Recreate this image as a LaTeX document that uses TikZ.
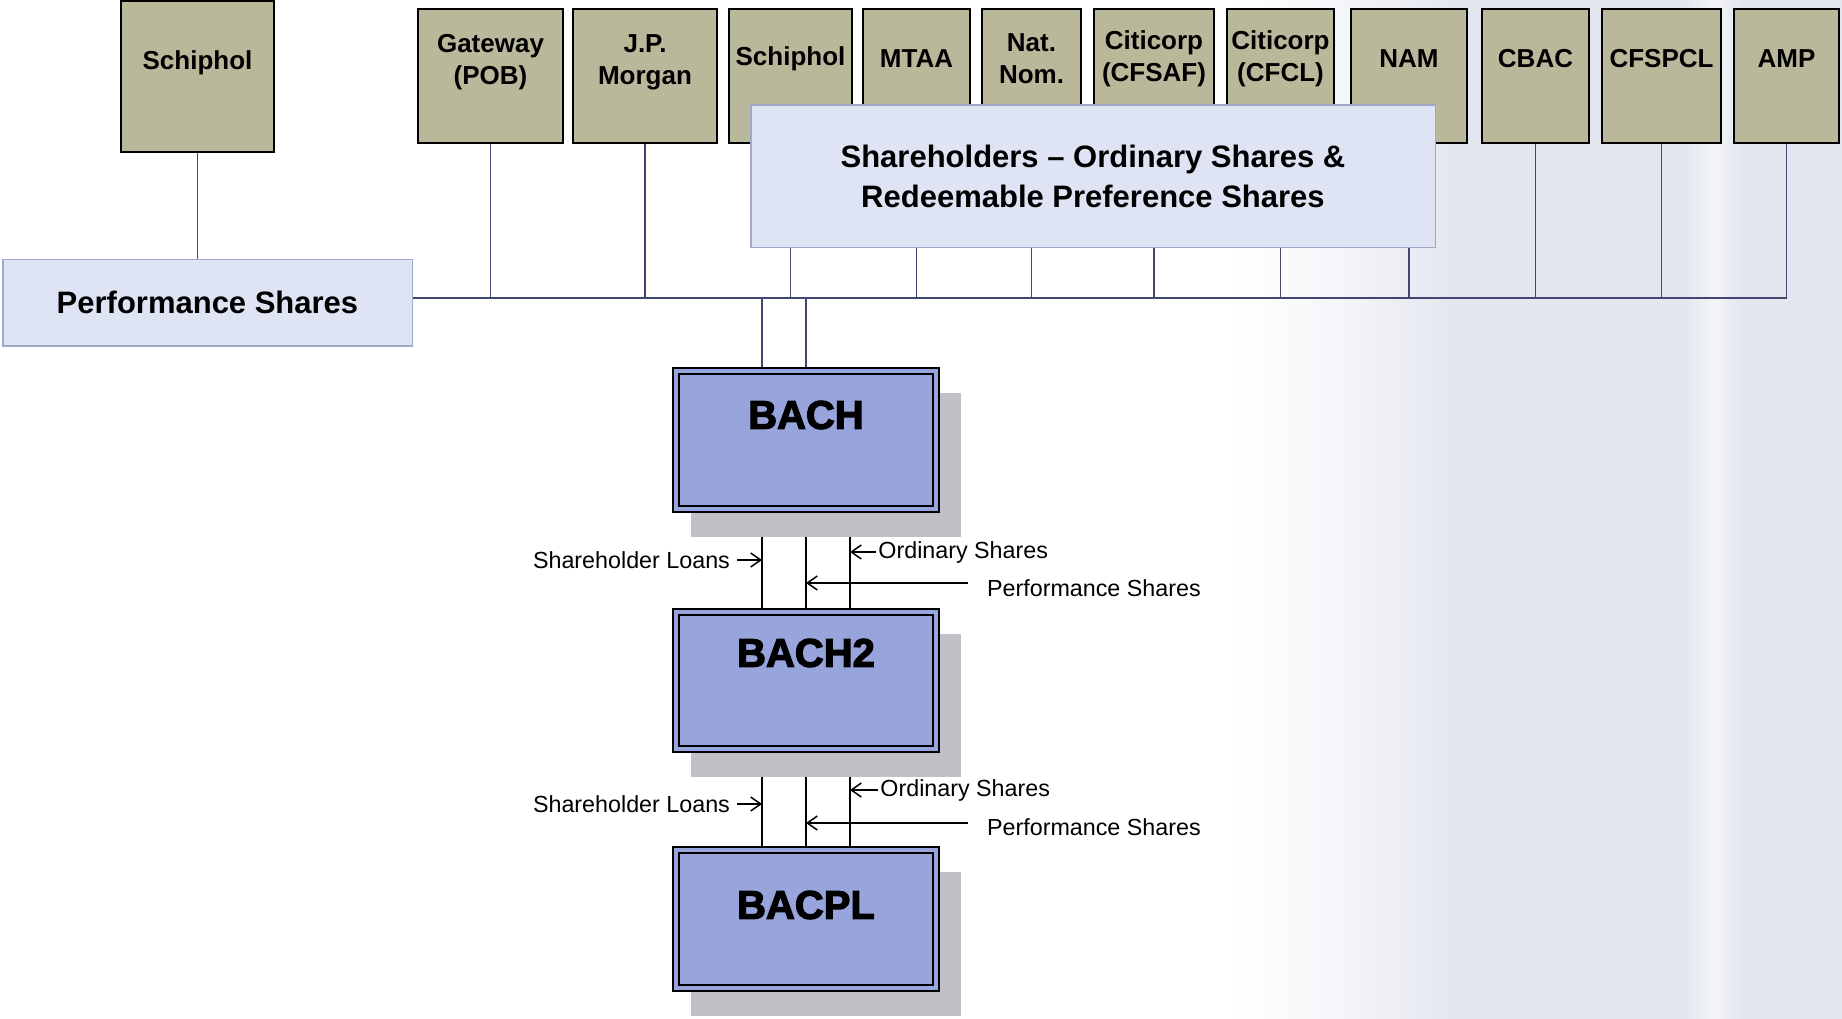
\documentclass[tikz,border=0pt]{standalone}
\usepackage{fontspec}
\setmainfont{Liberation Sans}
\newfontfamily\heavyfont{Liberation Sans}[BoldFeatures={FakeBold=3}]
\usetikzlibrary{arrows.meta,backgrounds,shadows}

\definecolor{khaki}{RGB}{186,184,155}
\definecolor{paleblue}{RGB}{223,228,245}
\definecolor{paleedge}{RGB}{160,168,200}
\definecolor{bachblue}{RGB}{152,164,220}
\definecolor{shadowgrey}{RGB}{192,192,198}
\definecolor{linkblue}{RGB}{66,70,112}
\definecolor{scantint}{RGB}{227,229,239}

\pgfdeclarehorizontalshading{scanwash}{100bp}{color(0bp)=(white); color(25bp)=(white); color(33bp)=(white!70!scantint); color(39.5bp)=(white!30!scantint); color(44bp)=(scantint); color(62bp)=(scantint); color(64.5bp)=(white!60!scantint); color(67bp)=(scantint); color(100bp)=(scantint)}

\tikzset{
  holder/.style={draw=black, line width=1.2pt, fill=khaki, minimum height=67pt, inner sep=0pt},
  holdertext/.style={font=\bfseries\fontsize{13}{16}\selectfont, align=center, yshift=8.5pt},
  sharebox/.style={draw=paleedge, line width=0.75pt, fill=paleblue, inner sep=0pt, align=center, font=\bfseries\fontsize{15.5}{20}\selectfont},
  company/.style={draw=black, line width=0.8pt, double=bachblue, double distance=2.2pt, fill=bachblue,
    minimum width=130pt, minimum height=69pt, inner sep=0pt,
    drop shadow={shadow xshift=9.5pt, shadow yshift=-12pt, shadow scale=1.04, fill=shadowgrey, opacity=1}},
  companytext/.style={font=\heavyfont\bfseries\fontsize{20}{24}\selectfont},
  link/.style={draw=linkblue, line width=0.75pt},
  busline/.style={draw=linkblue, line width=1.2pt},
  feed/.style={draw=black, line width=0.75pt},
  note/.style={font=\fontsize{11.65}{14}\selectfont},
  arr/.style={draw=black, line width=0.75pt, -{Straight Barb[length=5pt,width=7pt]}}
}

\begin{document}
\begin{tikzpicture}[x=0.5pt, y=-0.5pt]
\useasboundingbox (0,0) rectangle (1842,1018);

% shareholders
\node[holder, minimum width=76.5pt, minimum height=75.5pt, label={[holdertext, yshift=-1.5pt]center:Schiphol}] (schA) at (197.5,76.5) {};
\node[holder, minimum width=72.25pt, label={[holdertext, yshift=-1.5pt]center:Gateway\\(POB)}] (gw) at (490.5,76) {};
\node[holder, minimum width=71.75pt, label={[holdertext, yshift=-1.5pt]center:J.P.\\Morgan}] (jpm) at (645,76) {};
\node[holder, minimum width=61.25pt, label={[holdertext]center:Schiphol}] (schB) at (790.5,76) {};
\node[holder, minimum width=53.25pt, label={[holdertext]center:MTAA}] (mtaa) at (916.5,76) {};
\node[holder, minimum width=49.25pt, label={[holdertext]center:Nat.\\Nom.}] (natnom) at (1031.5,76) {};
\node[holder, minimum width=59.75pt, label={[holdertext]center:Citicorp\\(CFSAF)}] (cfsaf) at (1154,76) {};
\node[holder, minimum width=53.25pt, label={[holdertext]center:Citicorp\\(CFCL)}] (cfcl) at (1280.5,76) {};
\node[holder, minimum width=57.75pt, label={[holdertext]center:NAM}] (nam) at (1409,76) {};
\node[holder, minimum width=53.25pt, label={[holdertext]center:CBAC}] (cbac) at (1535.5,76) {};
\node[holder, minimum width=59.25pt, label={[holdertext]center:CFSPCL}] (cfspcl) at (1661.5,76) {};
\node[holder, minimum width=52.25pt, label={[holdertext]center:AMP}] (amp) at (1786.5,76) {};

\node[sharebox, minimum width=342.25pt, minimum height=71.25pt] (holders) at (1093,176) {Shareholders -- Ordinary Shares \&\\Redeemable Preference Shares};
\node[sharebox, minimum width=204.75pt, minimum height=43.25pt] (perf) at (207.5,302.5) {Performance Shares};

% companies
\node[company, label={[companytext, yshift=12.5pt]center:BACH}] (bach) at (806,440) {};
\node[company, minimum height=68.5pt, label={[companytext, yshift=13.75pt]center:BACH2}] (bach2) at (806,680.5) {};
\node[company, label={[companytext, yshift=7pt]center:BACPL}] (bacpl) at (806,919) {};

\begin{scope}[on background layer]
\fill[white] (0,0) rectangle (1842,1018);
\shade[shading=scanwash] (1230,0) rectangle (1842,1018);

\coordinate (bus) at (0,298);
\draw[link] (schA) -- (schA |- perf.north);
\draw[busline] (perf.east |- bus) -- (amp |- bus);
\draw[link] (gw) -- (gw |- bus);
\draw[link] (jpm) -- (jpm |- bus);
\draw[link] (schB) -- (schB |- bus);
\draw[link] (mtaa) -- (mtaa |- bus);
\draw[link] (natnom) -- (natnom |- bus);
\draw[link] (cfsaf) -- (cfsaf |- bus);
\draw[link] (cfcl) -- (cfcl |- bus);
\draw[link] (nam) -- (nam |- bus);
\draw[link] (cbac) -- (cbac |- bus);
\draw[link] (cfspcl) -- (cfspcl |- bus);
\draw[link] (amp) -- (amp |- bus);

\coordinate (in1) at ([xshift=-22pt]bach.north);
\draw[link] (in1) -- (in1 |- bus);
\draw[link] (bach) -- (bach |- bus);

\coordinate (a1) at ([xshift=-22pt]bach.south);
\coordinate (a3) at ([xshift=22pt]bach.south);
\draw[feed] (a1) -- (a1 |- bach2.north);
\draw[feed] (bach) -- (bach2);
\draw[feed] (a3) -- (a3 |- bach2.north);

\coordinate (b1) at ([xshift=-22pt]bach2.south);
\coordinate (b3) at ([xshift=22pt]bach2.south);
\draw[feed] (b1) -- (b1 |- bacpl.north);
\draw[feed] (bach2) -- (bacpl);
\draw[feed] (b3) -- (b3 |- bacpl.north);
\end{scope}

% flows BACH -> BACH2
\node[note, anchor=east] (loan1) at (737,560) {Shareholder Loans};
\draw[arr] (loan1) -- (loan1 -| a1);
\node[note, anchor=west, inner xsep=1pt] (ord1) at (876,552) {Ordinary Shares};
\draw[arr] (ord1) -- (ord1 -| a3);
\node[note, anchor=west] (perf1) at (980,588) {Performance Shares};
\coordinate (p1) at ([shift={(-6pt,2.5pt)}]perf1.west);
\draw[arr] (p1) -- (p1 -| bach.south);

% flows BACH2 -> BACPL
\node[note, anchor=east] (loan2) at (737,804) {Shareholder Loans};
\draw[arr] (loan2) -- (loan2 -| b1);
\node[note, anchor=west, inner xsep=1pt] (ord2) at (878,790) {Ordinary Shares};
\draw[arr] (ord2) -- (ord2 -| b3);
\node[note, anchor=west] (perf2) at (980,827) {Performance Shares};
\coordinate (p2) at ([shift={(-6pt,2pt)}]perf2.west);
\draw[arr] (p2) -- (p2 -| bach2.south);
\end{tikzpicture}
\end{document}
